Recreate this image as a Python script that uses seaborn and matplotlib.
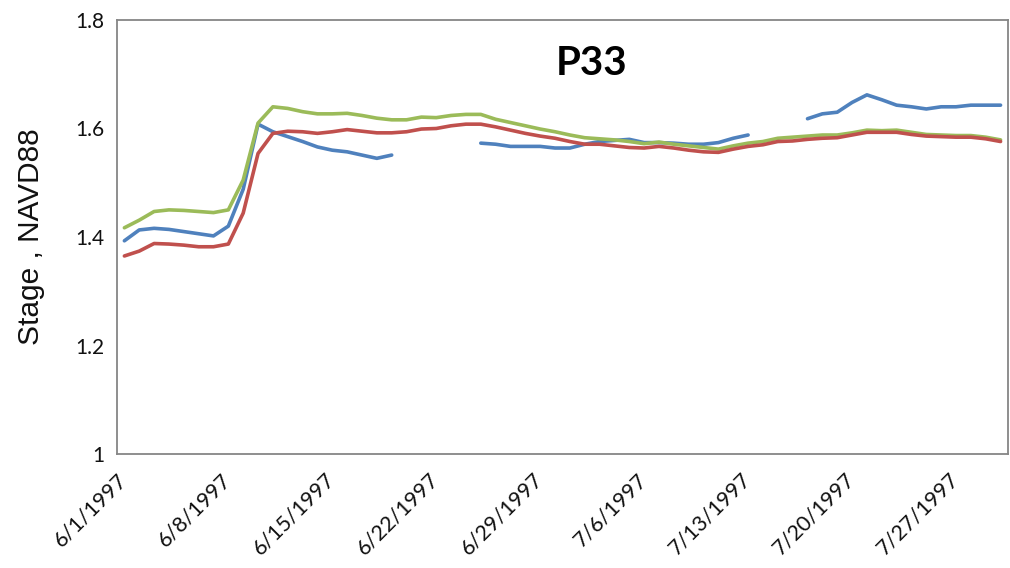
import numpy as np
import pandas as pd
import matplotlib
matplotlib.use("Agg")
import matplotlib.pyplot as plt
import seaborn as sns

# Daily stage readings, 6/1/1997 - 7/30/1997 (NaN = no record)
start_date = "1997-06-01"
n_days = 60

series_1 = [1.393, 1.413, 1.416, 1.414, 1.410, 1.406, 1.402, 1.420, 1.488, 1.608,
            1.594, 1.585, 1.576, 1.566, 1.560, 1.557, 1.551, 1.545, 1.551, np.nan,
            np.nan, np.nan, np.nan, np.nan, 1.573, 1.571, 1.567, 1.567, 1.567, 1.564,
            1.564, 1.571, 1.576, 1.578, 1.580, 1.574, 1.574, 1.573, 1.571, 1.571,
            1.574, 1.582, 1.588, np.nan, np.nan, np.nan, 1.618, 1.627, 1.630, 1.648,
            1.662, 1.653, 1.643, 1.640, 1.636, 1.640, 1.640, 1.643, 1.643, 1.643]

series_2 = [1.365, 1.374, 1.388, 1.387, 1.385, 1.382, 1.382, 1.387, 1.444, 1.554,
            1.591, 1.595, 1.594, 1.591, 1.594, 1.598, 1.595, 1.592, 1.592, 1.594,
            1.599, 1.600, 1.605, 1.608, 1.608, 1.603, 1.597, 1.591, 1.586, 1.582,
            1.576, 1.571, 1.571, 1.568, 1.565, 1.564, 1.567, 1.564, 1.560, 1.557,
            1.556, 1.562, 1.567, 1.570, 1.576, 1.577, 1.580, 1.582, 1.583, 1.588,
            1.593, 1.593, 1.593, 1.589, 1.586, 1.585, 1.584, 1.584, 1.581, 1.576]

series_3 = [1.417, 1.431, 1.447, 1.450, 1.449, 1.447, 1.445, 1.450, 1.505, 1.610,
            1.640, 1.637, 1.631, 1.627, 1.627, 1.628, 1.624, 1.619, 1.616, 1.616,
            1.621, 1.620, 1.624, 1.626, 1.626, 1.617, 1.611, 1.605, 1.599, 1.594,
            1.588, 1.583, 1.581, 1.579, 1.576, 1.572, 1.575, 1.571, 1.568, 1.565,
            1.562, 1.568, 1.573, 1.576, 1.582, 1.584, 1.586, 1.588, 1.588, 1.592,
            1.597, 1.596, 1.597, 1.593, 1.589, 1.588, 1.587, 1.587, 1.584, 1.579]

series_names = ["Series 1", "Series 3", "Series 2"]
series_colors = {"Series 1": "#4F81BD", "Series 2": "#C0504D", "Series 3": "#9BBB59"}

y_ticks = [1.0, 1.2, 1.4, 1.6, 1.8]
y_tick_labels = ["1", "1.2", "1.4", "1.6", "1.8"]
title_text = "P33"
y_label = "Stage , NAVD88"

# Each daily value is centred within its day
dates = pd.date_range(start_date, periods=n_days, freq="D") + pd.Timedelta(hours=12)

frames = []
for name, vals in [("Series 1", series_1), ("Series 3", series_3), ("Series 2", series_2)]:
    v = pd.Series(vals, dtype=float)
    seg = v.isna().cumsum()
    df = pd.DataFrame({"date": dates, "stage": v, "series": name,
                       "segment": [f"{name}-{s}" for s in seg]})
    frames.append(df.dropna(subset=["stage"]))
data = pd.concat(frames, ignore_index=True)

sns.set_theme(style="white")
plt.rcParams["font.family"] = ["Lato", "DejaVu Sans"]

fig = plt.figure(figsize=(10.10, 5.68), dpi=100)
ax = fig.add_axes([0.1158, 0.2007, 0.8822, 0.7641])

sns.lineplot(data=data, x="date", y="stage", hue="series", units="segment",
             estimator=None, sort=False, palette=series_colors,
             hue_order=series_names, linewidth=2.6, legend=False, ax=ax)

ax.set_xlim(pd.Timestamp("1997-06-01"), pd.Timestamp("1997-07-31"))
ax.set_ylim(1.0, 1.8)
ax.set_yticks(y_ticks)
ax.set_yticklabels(y_tick_labels)

week_ticks = pd.date_range("1997-06-01", "1997-07-31", freq="7D")
ax.set_xticks(week_ticks)
ax.set_xticklabels([f"{d.month}/{d.day}/{d.year}" for d in week_ticks],
                   rotation=45, ha="right", rotation_mode="anchor")

for s in ax.spines.values():
    s.set_color("#868686")
    s.set_linewidth(1.3)
ax.tick_params(axis="both", which="major", direction="out", length=5, width=1.3,
               color="#868686", labelcolor="#111111", pad=4)
ax.tick_params(axis="y", labelsize=15)
ax.tick_params(axis="x", labelsize=15.5, pad=6)
ax.grid(False)

ax.set_xlabel("")
ax.set_ylabel(y_label, fontsize=21.5, family=["Liberation Sans", "DejaVu Sans"],
              color="#111111", labelpad=22)

ax.text(0.533, 0.9, title_text, transform=ax.transAxes, ha="center", va="center",
        fontsize=29, fontweight="bold", color="black")

fig.savefig("out.png", dpi=100)
